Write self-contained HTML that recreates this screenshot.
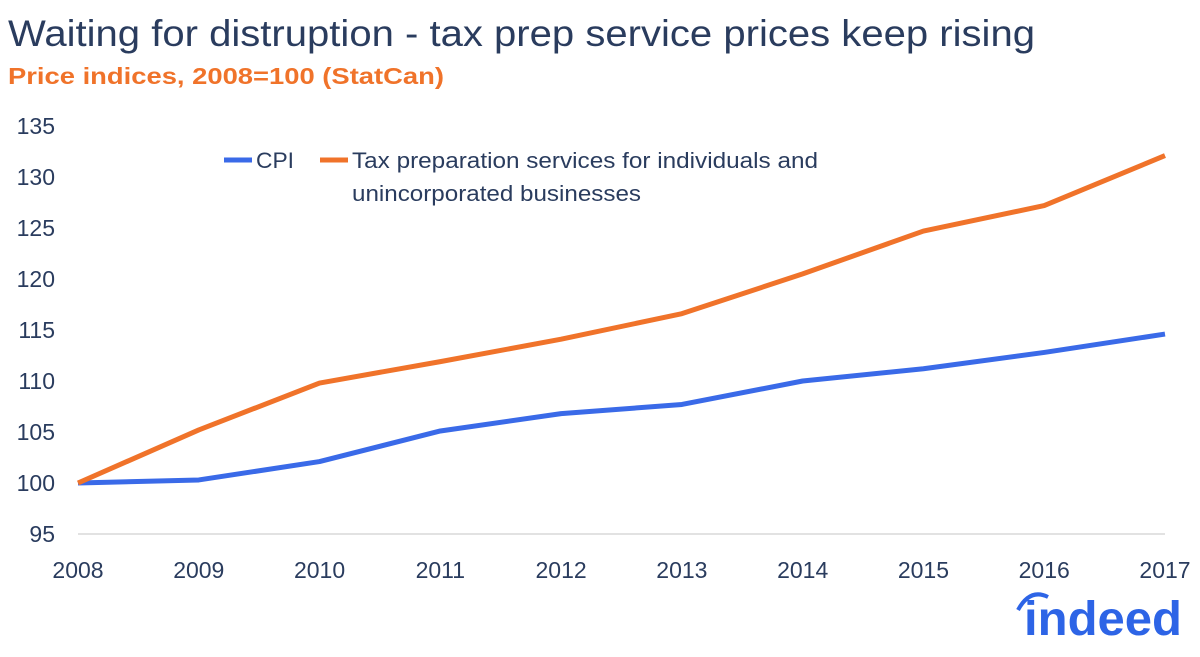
<!DOCTYPE html>
<html><head><meta charset="utf-8"><style>
body{margin:0;width:1200px;height:652px;background:#fff;overflow:hidden;font-family:"Liberation Sans",sans-serif}
svg text{font-family:"Liberation Sans",sans-serif}
</style></head><body>
<svg id="chart" width="1200" height="652" xmlns="http://www.w3.org/2000/svg">
<text x="8" y="46" font-size="37" fill="#2a3c5e" textLength="1027" lengthAdjust="spacingAndGlyphs">Waiting for distruption - tax prep service prices keep rising</text>
<text x="8" y="84" font-size="23" font-weight="bold" fill="#f0732a" textLength="436" lengthAdjust="spacingAndGlyphs">Price indices, 2008=100 (StatCan)</text>
<g id="axes"></g>
<g id="lines"></g>
<g>
<line x1="224" y1="160" x2="252" y2="160" stroke="#3a6ae8" stroke-width="5"/>
<text x="256" y="168" font-size="22" fill="#2a3c5e" textLength="38" lengthAdjust="spacingAndGlyphs">CPI</text>
<line x1="320" y1="160" x2="348" y2="160" stroke="#f0732a" stroke-width="5"/>
<text x="352" y="168" font-size="22" fill="#2a3c5e" textLength="466" lengthAdjust="spacingAndGlyphs">Tax preparation services for individuals and</text>
<text x="352" y="201" font-size="22" fill="#2a3c5e" textLength="289" lengthAdjust="spacingAndGlyphs">unincorporated businesses</text>
</g>
<g>
<path d="M1018 610 Q1030 588 1048 597" stroke="#2d64e6" stroke-width="4" fill="none"/>
<text x="1024" y="635" font-size="48" font-weight="bold" fill="#2d64e6" textLength="158" lengthAdjust="spacingAndGlyphs">indeed</text>
</g>
</svg>
<script>
const years=[2008,2009,2010,2011,2012,2013,2014,2015,2016,2017];
const cpi=[100,100.3,102.1,105.1,106.8,107.7,110.0,111.2,112.8,114.6];
const tax=[100,105.2,109.8,111.9,114.1,116.6,120.5,124.7,127.2,132.1];
const yTicks=[95,100,105,110,115,120,125,130,135];
const NS="http://www.w3.org/2000/svg";
const x=i=>78+i*(1165-78)/(years.length-1);
const y=v=>534-(v-95)*10.2;
const axes=document.getElementById('axes'),lines=document.getElementById('lines');
function mk(tag,attrs,parent){const e=document.createElementNS(NS,tag);for(const k in attrs)e.setAttribute(k,attrs[k]);parent.appendChild(e);return e;}
const base=mk('line',{x1:78,x2:1165,y1:y(95),y2:y(95),stroke:'#d9d9d9','stroke-width':1.5},axes);


yTicks.forEach(v=>{const t=mk('text',{x:55,y:y(v)+8,'font-size':23,fill:'#2a3c5e','text-anchor':'end'},axes);t.textContent=v;

});
years.forEach((yr,i)=>{const t=mk('text',{x:x(i),y:578,'font-size':23,fill:'#2a3c5e','text-anchor':'middle'},axes);t.textContent=yr;

});
function line(vals,color,name){const p=mk('polyline',{points:vals.map((v,i)=>x(i)+','+y(v)).join(' '),fill:'none',stroke:color,'stroke-width':5,'stroke-linejoin':'round'},lines);

}
line(cpi,'#3a6ae8','cpi-line');
line(tax,'#f0732a','tax-prep-line');
</script>
</body></html>
